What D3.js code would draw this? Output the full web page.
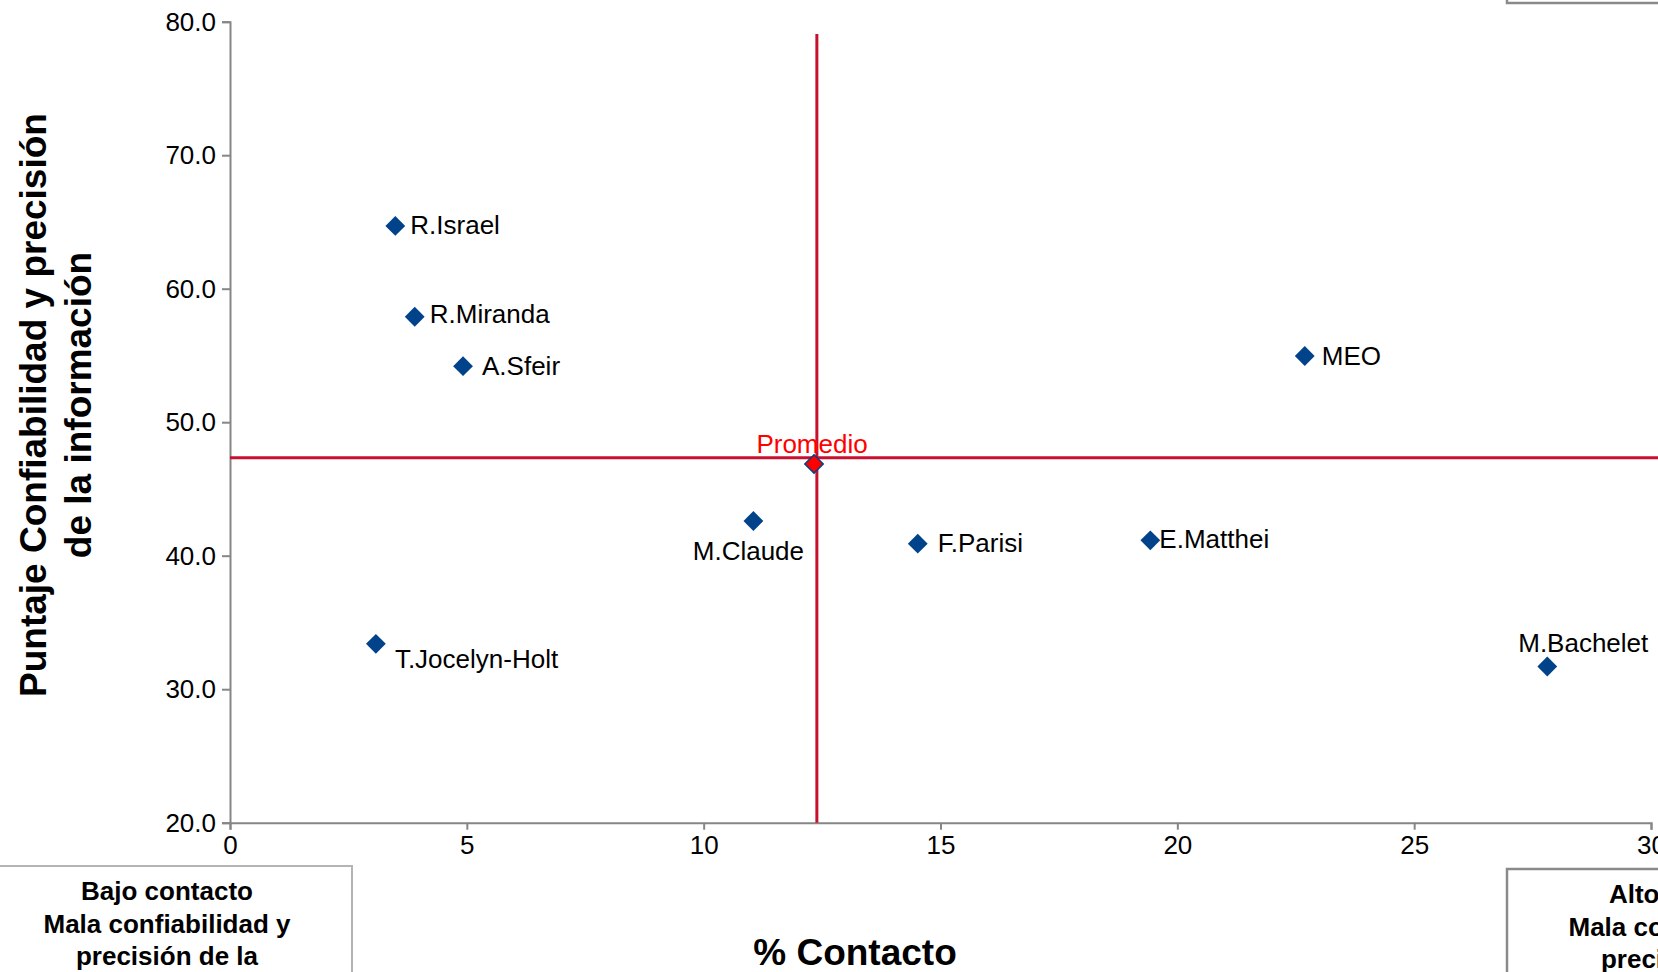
<!DOCTYPE html>
<html>
<head>
<meta charset="utf-8">
<script src="https://cdn.jsdelivr.net/npm/d3@7"></script>
<style>
  html, body { margin: 0; padding: 0; background: #ffffff; }
  svg { display: block; }
  text { font-family: "Liberation Sans", Arial, sans-serif; }
</style>
</head>
<body>
<svg id="chart" width="1658" height="972"></svg>
<script>
// ---- data ----
const names = ["R.Israel", "R.Miranda", "A.Sfeir", "M.Claude", "F.Parisi", "E.Matthei", "MEO", "M.Bachelet", "T.Jocelyn-Holt"];
const contacto = [3.49, 3.90, 4.92, 11.05, 14.52, 19.43, 22.69, 27.81, 3.08];
const confiabilidad = [64.7, 57.9, 54.2, 42.6, 40.9, 41.15, 54.96, 31.7, 33.4];
const promedioLabel = "Promedio";
const promedioX = [12.33];
const promedioY = [46.87];
const avgLineX = [12.39];
const avgLineY = [47.34];
const xTicks = [0, 5, 10, 15, 20, 25, 30];
const yTicks = [20, 30, 40, 50, 60, 70, 80];
const xTitle = "% Contacto";
const yTitleLines = ["Puntaje Confiabilidad y precisión", "de la información"];
const boxLeftLines = ["Bajo contacto", "Mala confiabilidad y", "precisión de la"];
const boxRightLines = ["Alto contacto", "Mala confiabilidad y", "precisión de la"];

// ---- layout (label offsets relative to marker, px) ----
const labelLayout = [
  {dx: 15, dy: 8, anchor: "start"},
  {dx: 15, dy: 6, anchor: "start"},
  {dx: 19, dy: 9, anchor: "start"},
  {dx: -5, dy: 39, anchor: "middle"},
  {dx: 20, dy: 8, anchor: "start"},
  {dx: 9, dy: 8, anchor: "start"},
  {dx: 17, dy: 9, anchor: "start"},
  {dx: 36, dy: -15, anchor: "middle"},
  {dx: 19, dy: 24, anchor: "start"}
];

const svg = d3.select("#chart");
const W = 1658, H = 972;
const x = d3.scaleLinear().domain([0, 30]).range([230, 1651]);
const y = d3.scaleLinear().domain([20, 80]).range([822.7, 21.7]);
const axisColor = "#868686";
const blue = "#00438A";
const red = "#C8102E";

// quadrant boxes
svg.append("rect").attr("x", -20).attr("y", 866).attr("width", 372).attr("height", 200)
  .attr("fill", "none").attr("stroke", "#B4B4B4").attr("stroke-width", 2);
svg.append("rect").attr("x", 1507).attr("y", 869).attr("width", 380).attr("height", 200)
  .attr("fill", "none").attr("stroke", "#8A8A8A").attr("stroke-width", 2.5);
svg.append("rect").attr("x", 1507).attr("y", -200).attr("width", 380).attr("height", 203)
  .attr("fill", "none").attr("stroke", "#8A8A8A").attr("stroke-width", 2.5);

const lh = 32.5;
svg.append("g").selectAll("text").data(boxLeftLines).join("text")
  .attr("x", 167).attr("y", (d, i) => 900 + i * lh)
  .attr("text-anchor", "middle").attr("font-size", 26).attr("font-weight", "bold")
  .attr("fill", "#000").text(d => d);
svg.append("g").selectAll("text").data(boxRightLines).join("text")
  .attr("x", 1692).attr("y", (d, i) => 903 + i * lh)
  .attr("text-anchor", "middle").attr("font-size", 26).attr("font-weight", "bold")
  .attr("fill", "#000").text(d => d);

// axes
const yAxis = d3.axisLeft(y).tickValues(yTicks).tickFormat(d3.format(".1f")).tickSize(8).tickPadding(6);
const gy = svg.append("g").attr("transform", `translate(${x(0)},0)`).call(yAxis);
gy.select(".domain").attr("stroke", axisColor).attr("stroke-width", 2);
gy.selectAll(".tick line").attr("stroke", axisColor).attr("stroke-width", 2);
gy.selectAll(".tick text").attr("font-size", 26).attr("fill", "#000")
  .attr("font-family", "'Liberation Sans', Arial, sans-serif");

const xAxis = d3.axisBottom(x).tickValues(xTicks).tickFormat(d3.format("d")).tickSize(7).tickPadding(6);
const gx = svg.append("g").attr("transform", `translate(0,${y(20)})`).call(xAxis);
gx.select(".domain").attr("stroke", axisColor).attr("stroke-width", 2);
gx.selectAll(".tick line").attr("stroke", axisColor).attr("stroke-width", 2);
gx.selectAll(".tick text").attr("font-size", 26).attr("fill", "#000")
  .attr("font-family", "'Liberation Sans', Arial, sans-serif");

// average lines
svg.append("line").attr("x1", x(avgLineX[0])).attr("x2", x(avgLineX[0]))
  .attr("y1", 34).attr("y2", y(20)).attr("stroke", red).attr("stroke-width", 3);
svg.append("line").attr("x1", x(0)).attr("x2", W)
  .attr("y1", y(avgLineY[0])).attr("y2", y(avgLineY[0])).attr("stroke", red).attr("stroke-width", 3);

// points
const pts = names.map((n, i) => ({name: n, cx: contacto[i], cy: confiabilidad[i], lay: labelLayout[i]}));
svg.append("g").selectAll("rect").data(pts).join("rect")
  .attr("x", -7).attr("y", -7).attr("width", 14).attr("height", 14)
  .attr("transform", d => `translate(${x(d.cx)},${y(d.cy)}) rotate(45)`)
  .attr("fill", blue);
svg.append("g").selectAll("text").data(pts).join("text")
  .attr("x", d => x(d.cx) + d.lay.dx).attr("y", d => y(d.cy) + d.lay.dy)
  .attr("text-anchor", d => d.lay.anchor).attr("font-size", 26).attr("fill", "#000")
  .text(d => d.name);

// promedio point
svg.append("rect").attr("x", -6.5).attr("y", -6.5).attr("width", 13).attr("height", 13)
  .attr("transform", `translate(${x(promedioX[0])},${y(promedioY[0])}) rotate(45)`)
  .attr("fill", "#FF0000").attr("stroke", blue).attr("stroke-width", 1.5);
svg.append("text").attr("x", x(promedioX[0]) - 2).attr("y", y(promedioY[0]) - 11)
  .attr("text-anchor", "middle").attr("font-size", 26).attr("fill", "#FF0000").text(promedioLabel);

// titles
svg.append("text").attr("x", 855).attr("y", 965).attr("text-anchor", "middle")
  .attr("font-size", 37).attr("font-weight", "bold").attr("fill", "#000").text(xTitle);
svg.append("g").attr("transform", "translate(0,405) rotate(-90)")
  .selectAll("text").data(yTitleLines).join("text")
  .attr("x", 0).attr("y", (d, i) => 46 + i * 45)
  .attr("text-anchor", "middle").attr("font-size", 37).attr("font-weight", "bold")
  .attr("fill", "#000").text(d => d);
</script>
</body>
</html>
